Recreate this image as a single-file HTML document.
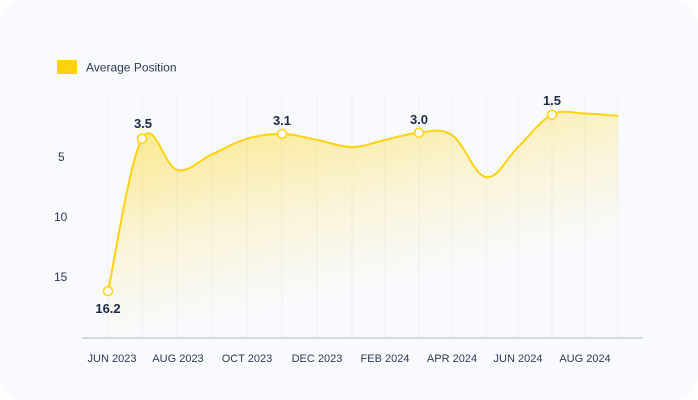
<!DOCTYPE html>
<html><head><meta charset="utf-8"><style>
html,body{margin:0;padding:0;background:#fff;}
#c{position:absolute;left:0;top:0;width:698px;height:400px;background:#f9fafd;border-radius:24px;overflow:hidden;font-family:"Liberation Sans",sans-serif;}
</style></head><body>
<div id="c">
<svg width="698" height="400" xmlns="http://www.w3.org/2000/svg" font-family="Liberation Sans, sans-serif">
<defs>
<linearGradient id="g" x1="0" y1="0" x2="0.45" y2="1">
<stop offset="0" stop-color="#ffd200" stop-opacity="0.5"/>
<stop offset="0.5" stop-color="#ffd200" stop-opacity="0.15"/>
<stop offset="0.85" stop-color="#ffd200" stop-opacity="0"/>
</linearGradient>
</defs>
<rect x="57" y="60" width="20" height="14" fill="#ffd20f"/>
<text x="86" y="71.5" font-size="12" fill="#2b3a55">Average Position</text>
<g id="grid" stroke="#eef0f4" stroke-width="1"></g>
<path id="area" fill="url(#g)"/>
<line x1="82" y1="338" x2="643" y2="338" stroke="#d3d9e3" stroke-width="2"/>
<path id="line" fill="none" stroke="#ffd20f" stroke-width="2"/>
<g font-size="12" fill="#2b3a55">
<text x="58" y="161">5</text><text x="54" y="221">10</text><text x="54" y="281">15</text>
</g>
<g font-size="11" fill="#2b3a55" text-anchor="middle">
<text x="112" y="362">JUN 2023</text><text x="178" y="362">AUG 2023</text>
<text x="247" y="362">OCT 2023</text><text x="317" y="362">DEC 2023</text>
<text x="385" y="362">FEB 2024</text><text x="452" y="362">APR 2024</text>
<text x="518" y="362">JUN 2024</text><text x="585" y="362">AUG 2024</text>
</g>
<g id="pts" fill="#fff" stroke="#ffd20f" stroke-width="1.5"></g>
<g font-size="13" font-weight="bold" fill="#1c2a44" text-anchor="middle">
<text x="108" y="313">16.2</text><text x="143" y="128">3.5</text>
<text x="282" y="125">3.1</text><text x="419" y="124">3.0</text>
<text x="552" y="105">1.5</text>
</g>
</svg>
</div>
<script>
var xs=[108,142,177,212,247,282,317,352,385,419,452,486,518,552,585,618];
var vs=[16.2,3.5,6.1,4.8,3.5,3.1,3.6,4.2,3.6,3.0,3.2,6.7,4.2,1.5,1.4,1.6];
var P=xs.map(function(x,i){return [x,96.7+12*vs[i]];});
var d="M"+P[0][0]+","+P[0][1];
for(var i=0;i<P.length-1;i++){
 var p0=P[Math.max(i-1,0)],p1=P[i],p2=P[i+1],p3=P[Math.min(i+2,P.length-1)];
 var t=0.18;
 var c1=[p1[0]+(p2[0]-p0[0])*t,p1[1]+(p2[1]-p0[1])*t];
 var c2=[p2[0]-(p3[0]-p1[0])*t,p2[1]-(p3[1]-p1[1])*t];
 d+=" C"+c1[0]+","+c1[1]+" "+c2[0]+","+c2[1]+" "+p2[0]+","+p2[1];
}
document.getElementById('line').setAttribute('d',d);
document.getElementById('area').setAttribute('d',d+" L618,337 L108,337 Z");
var g=document.getElementById('grid'),s='';
xs.forEach(function(x){s+='<line x1="'+x+'" y1="97" x2="'+x+'" y2="337"/>';});
g.innerHTML=s;
var pts=document.getElementById('pts');s='';
[0,1,5,9,13].forEach(function(i){s+='<circle cx="'+P[i][0]+'" cy="'+P[i][1]+'" r="4.5"/>';});
pts.innerHTML=s;
</script>
</body></html>
